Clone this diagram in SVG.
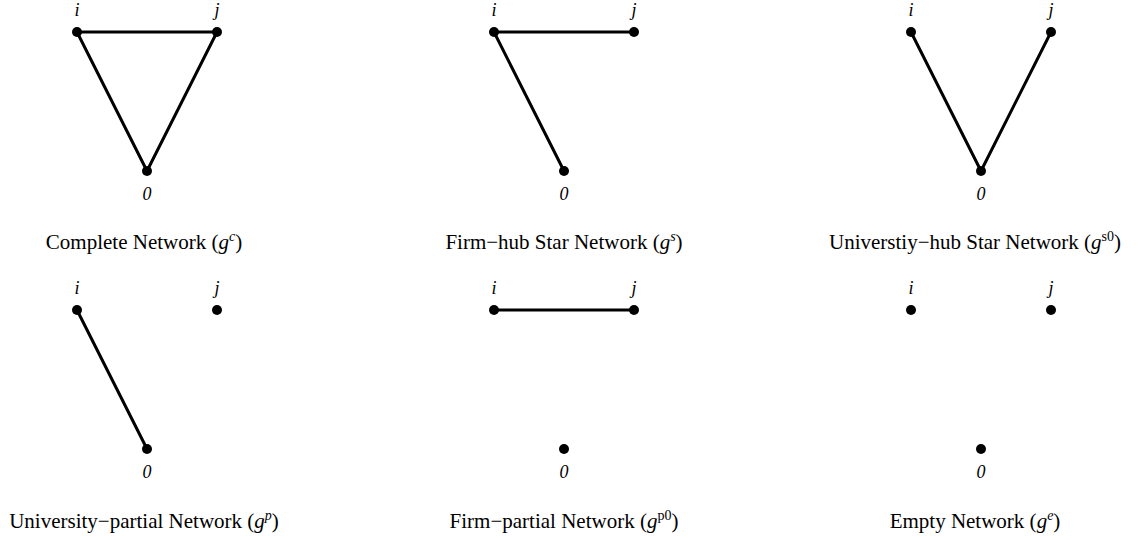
<svg xmlns="http://www.w3.org/2000/svg" width="1138" height="540" viewBox="0 0 1138 540">
<style>
.edge{stroke:#000;stroke-width:3;fill:none;stroke-linecap:round}
.dot{fill:#000}
.lab{font-family:"Liberation Serif",serif;font-style:italic;font-size:18px;text-anchor:middle;fill:#000}
.cap{font-family:"Liberation Serif",serif;font-size:21px;text-anchor:middle;fill:#000}
.it{font-style:italic}
</style>
<rect width="1138" height="540" fill="#fff"/>
<g id="connectors">
<line class="edge" x1="77" y1="32" x2="217" y2="32"/>
<line class="edge" x1="77" y1="32" x2="147" y2="171"/>
<line class="edge" x1="217" y1="32" x2="147" y2="171"/>
<line class="edge" x1="494" y1="32" x2="634" y2="32"/>
<line class="edge" x1="494" y1="32" x2="564" y2="171"/>
<line class="edge" x1="911" y1="32" x2="981" y2="171"/>
<line class="edge" x1="1051" y1="32" x2="981" y2="171"/>
<line class="edge" x1="77" y1="310" x2="147" y2="449"/>
<line class="edge" x1="494" y1="310" x2="634" y2="310"/>
</g>
<g id="p1-i"><circle class="dot" cx="77" cy="32" r="5"/><text class="lab" x="77" y="16">i</text></g>
<g id="p1-j"><circle class="dot" cx="217" cy="32" r="5"/><text class="lab" x="217" y="16">j</text></g>
<g id="p1-0"><circle class="dot" cx="147" cy="171" r="5"/><text class="lab" x="147" y="200">0</text></g>
<g id="p2-i"><circle class="dot" cx="494" cy="32" r="5"/><text class="lab" x="494" y="16">i</text></g>
<g id="p2-j"><circle class="dot" cx="634" cy="32" r="5"/><text class="lab" x="634" y="16">j</text></g>
<g id="p2-0"><circle class="dot" cx="564" cy="171" r="5"/><text class="lab" x="564" y="200">0</text></g>
<g id="p3-i"><circle class="dot" cx="911" cy="32" r="5"/><text class="lab" x="911" y="16">i</text></g>
<g id="p3-j"><circle class="dot" cx="1051" cy="32" r="5"/><text class="lab" x="1051" y="16">j</text></g>
<g id="p3-0"><circle class="dot" cx="981" cy="171" r="5"/><text class="lab" x="981" y="200">0</text></g>
<g id="p4-i"><circle class="dot" cx="77" cy="310" r="5"/><text class="lab" x="77" y="294">i</text></g>
<g id="p4-j"><circle class="dot" cx="217" cy="310" r="5"/><text class="lab" x="217" y="294">j</text></g>
<g id="p4-0"><circle class="dot" cx="147" cy="449" r="5"/><text class="lab" x="147" y="478">0</text></g>
<g id="p5-i"><circle class="dot" cx="494" cy="310" r="5"/><text class="lab" x="494" y="294">i</text></g>
<g id="p5-j"><circle class="dot" cx="634" cy="310" r="5"/><text class="lab" x="634" y="294">j</text></g>
<g id="p5-0"><circle class="dot" cx="564" cy="449" r="5"/><text class="lab" x="564" y="478">0</text></g>
<g id="p6-i"><circle class="dot" cx="911" cy="310" r="5"/><text class="lab" x="911" y="294">i</text></g>
<g id="p6-j"><circle class="dot" cx="1051" cy="310" r="5"/><text class="lab" x="1051" y="294">j</text></g>
<g id="p6-0"><circle class="dot" cx="981" cy="449" r="5"/><text class="lab" x="981" y="478">0</text></g>
<g id="captions">
<text class="cap" x="144" y="249">Complete Network (<tspan class="it">g</tspan><tspan class="it" font-size="14" dy="-8">c</tspan><tspan dy="8">)</tspan></text>
<text class="cap" x="564" y="249">Firm−hub Star Network (<tspan class="it">g</tspan><tspan class="it" font-size="14" dy="-8">s</tspan><tspan dy="8">)</tspan></text>
<text class="cap" x="975" y="249">Universtiy−hub Star Network (<tspan class="it">g</tspan><tspan font-size="14" dy="-8">s0</tspan><tspan dy="8">)</tspan></text>
<text class="cap" x="144" y="528">University−partial Network (<tspan class="it">g</tspan><tspan class="it" font-size="14" dy="-8">p</tspan><tspan dy="8">)</tspan></text>
<text class="cap" x="564" y="528">Firm−partial Network (<tspan class="it">g</tspan><tspan font-size="14" dy="-8">p0</tspan><tspan dy="8">)</tspan></text>
<text class="cap" x="975" y="528">Empty Network (<tspan class="it">g</tspan><tspan class="it" font-size="14" dy="-8">e</tspan><tspan dy="8">)</tspan></text>
</g>
</svg>
